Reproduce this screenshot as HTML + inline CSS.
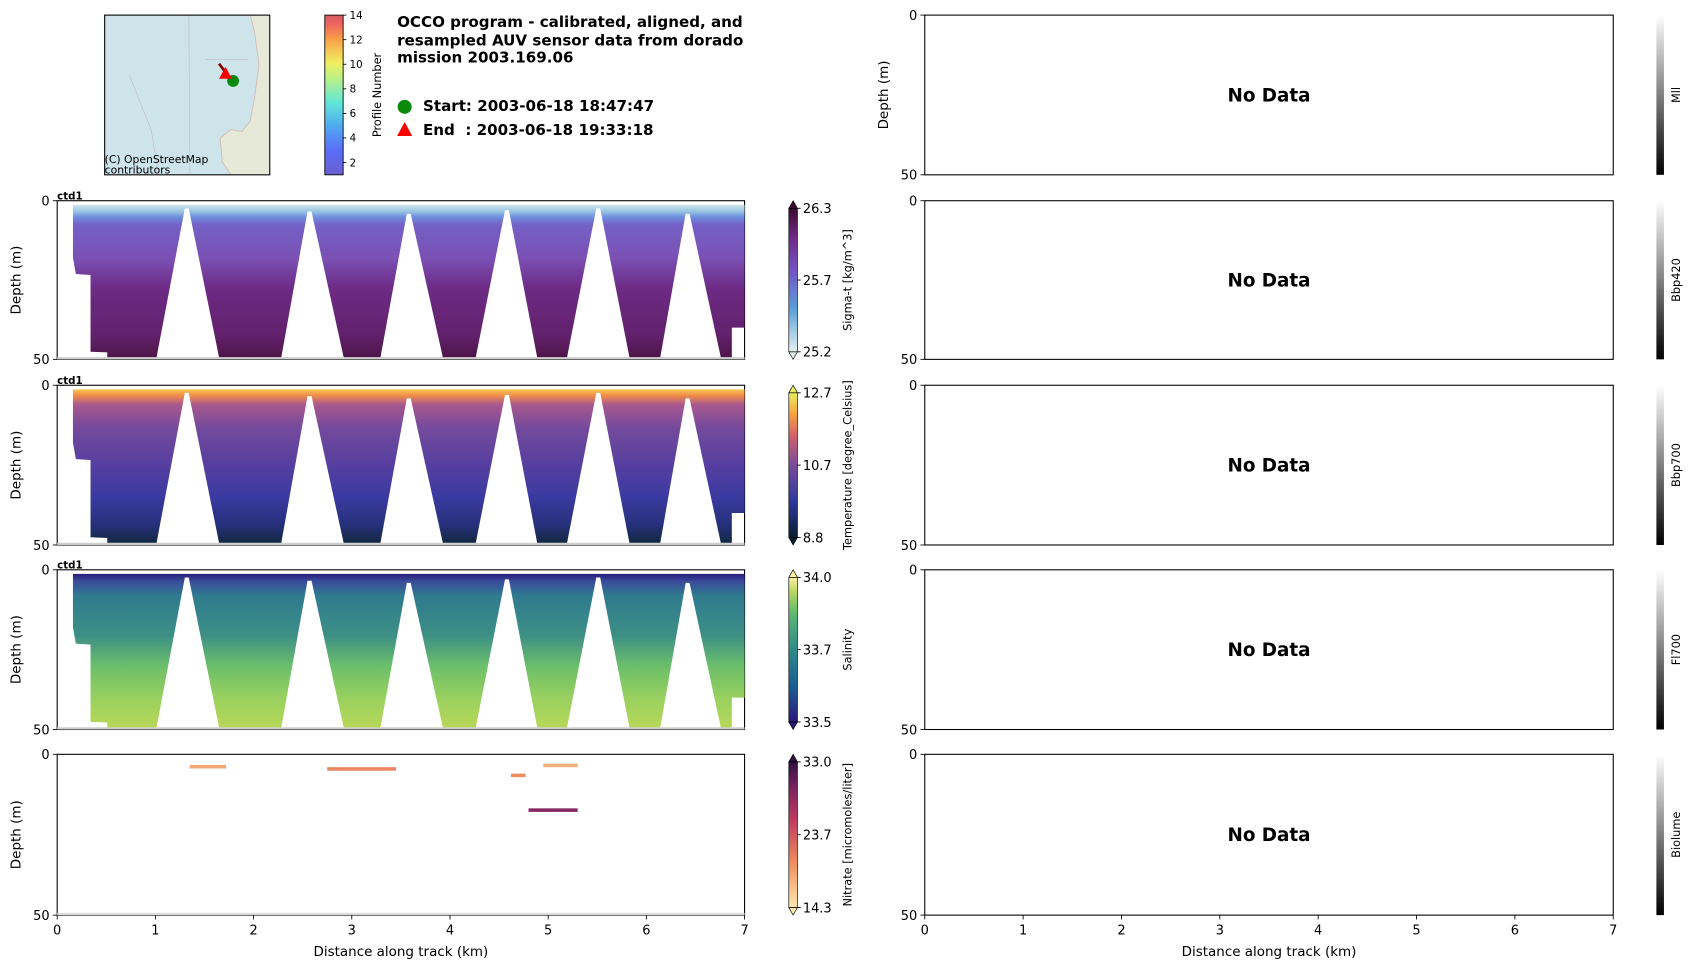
<!DOCTYPE html>
<html><head><meta charset="utf-8"><style>
html,body{margin:0;padding:0;background:#fff;}
svg{display:block;font-family:"DejaVu Sans","Liberation Sans",sans-serif;}
</style></head><body>
<svg id="fig" width="1692" height="968" viewBox="0 0 1568 897" preserveAspectRatio="none" xmlns="http://www.w3.org/2000/svg">
<defs>
<linearGradient id="gSig" x1="0" y1="0" x2="0" y2="1">
<stop offset="0" stop-color="#cfe6ea"/><stop offset="0.04" stop-color="#9cc8e4"/><stop offset="0.08" stop-color="#6e8ede"/><stop offset="0.13" stop-color="#7461c6"/><stop offset="0.35" stop-color="#7a50b4"/><stop offset="0.55" stop-color="#6c2a84"/><stop offset="0.85" stop-color="#62216c"/><stop offset="1" stop-color="#4e1448"/></linearGradient>
<linearGradient id="gTmp" x1="0" y1="0" x2="0" y2="1">
<stop offset="0" stop-color="#f7c850"/><stop offset="0.04" stop-color="#f08c48"/><stop offset="0.1" stop-color="#a8588e"/><stop offset="0.25" stop-color="#744a9c"/><stop offset="0.5" stop-color="#553ea0"/><stop offset="0.7" stop-color="#3a3aa0"/><stop offset="0.88" stop-color="#26307a"/><stop offset="1" stop-color="#12283e"/></linearGradient>
<linearGradient id="gSal" x1="0" y1="0" x2="0" y2="1">
<stop offset="0" stop-color="#2c1f7c"/><stop offset="0.05" stop-color="#3a4c9c"/><stop offset="0.14" stop-color="#2f7a8e"/><stop offset="0.4" stop-color="#3d8f86"/><stop offset="0.6" stop-color="#6cbf6a"/><stop offset="0.8" stop-color="#98d060"/><stop offset="1" stop-color="#b8d858"/></linearGradient>
<linearGradient id="cSig" x1="0" y1="1" x2="0" y2="0">
<stop offset="0" stop-color="#e6f1f1"/><stop offset="0.3" stop-color="#5b9fd9"/><stop offset="0.55" stop-color="#7358c8"/><stop offset="0.8" stop-color="#6d2a85"/><stop offset="1" stop-color="#3c0a2e"/></linearGradient>
<linearGradient id="cTmp" x1="0" y1="1" x2="0" y2="0">
<stop offset="0" stop-color="#0a1d2e"/><stop offset="0.25" stop-color="#2d3a9c"/><stop offset="0.5" stop-color="#7a4c9a"/><stop offset="0.7" stop-color="#d0606a"/><stop offset="0.85" stop-color="#f8a040"/><stop offset="1" stop-color="#e8f060"/></linearGradient>
<linearGradient id="cSal" x1="0" y1="1" x2="0" y2="0">
<stop offset="0" stop-color="#2a1a7a"/><stop offset="0.25" stop-color="#1b5f90"/><stop offset="0.5" stop-color="#2f8a88"/><stop offset="0.75" stop-color="#5fb870"/><stop offset="0.9" stop-color="#b8d860"/><stop offset="1" stop-color="#fdf0a0"/></linearGradient>
<linearGradient id="cNit" x1="0" y1="1" x2="0" y2="0">
<stop offset="0" stop-color="#fde8b0"/><stop offset="0.3" stop-color="#f09060"/><stop offset="0.6" stop-color="#c03a60"/><stop offset="0.85" stop-color="#702060"/><stop offset="1" stop-color="#2f0f3d"/></linearGradient>
<linearGradient id="cGray" x1="0" y1="1" x2="0" y2="0">
<stop offset="0" stop-color="#000"/><stop offset="1" stop-color="#fff"/></linearGradient>
<linearGradient id="cProf" x1="0" y1="1" x2="0" y2="0">
<stop offset="0" stop-color="#6a5fd0"/><stop offset="0.15" stop-color="#5a6cf8"/><stop offset="0.3" stop-color="#4fa8f0"/><stop offset="0.45" stop-color="#5fe6d8"/><stop offset="0.6" stop-color="#b8f08a"/><stop offset="0.7" stop-color="#f0f060"/><stop offset="0.85" stop-color="#f8a048"/><stop offset="0.95" stop-color="#f06060"/><stop offset="1" stop-color="#d06060"/></linearGradient>
</defs>

<!-- Map -->
<g>
<rect x="97" y="14" width="153" height="148" fill="#cde4ea"/>
<path d="M232 14 L250 14 L250 162 L214 162 L206 150 L204 128 L214 120 L224 122 L232 112 L236 90 L240 60 L236 30 Z" fill="#e6e8d8"/>
<path d="M232 14 L236 30 L240 60 L236 90 L232 112 L224 122 L214 120 L204 128 L206 150 L214 162" fill="none" stroke="#d8b8b0" stroke-width="0.8"/>
<path d="M120 70 L140 120 L147 162 M175 14 L176 162 M190 55 L230 55" fill="none" stroke="#c8b8c8" stroke-width="0.6"/>
<line x1="203" y1="59" x2="209" y2="67" stroke="#8b0000" stroke-width="2.5"/>
<circle cx="216" cy="75" r="5.5" fill="#0a8a0a"/>
<polygon points="209,62 203,73 215,73" fill="#f00"/>
<rect x="97" y="14" width="153" height="148" fill="none" stroke="#000" stroke-width="1"/>
<text x="97" y="151" font-size="10">(C) OpenStreetMap</text>
<text x="97" y="161" font-size="10">contributors</text>
</g>
<g>
<rect x="301" y="14" width="17" height="148" fill="url(#cProf)" stroke="#000" stroke-width="0.8"/>
<text transform="translate(353,88) rotate(-90)" text-anchor="middle" font-size="10.5">Profile Number</text>
</g>

<g font-weight="bold" font-size="14">
<text x="368" y="25">OCCO program - calibrated, aligned, and</text>
<text x="368" y="42">resampled AUV sensor data from dorado</text>
<text x="368" y="58">mission 2003.169.06</text>
</g>
<g font-weight="bold" font-size="14">
<circle cx="375" cy="99" r="6.5" fill="#0a8a0a"/>
<text x="392" y="103">Start: 2003-06-18 18:47:47</text>
<polygon points="375,113 368,126 382,126" fill="#f00"/>
<text x="392" y="125" xml:space="preserve">End  : 2003-06-18 19:33:18</text>
</g>

<g id="plots"></g>
</svg>
<script>
// ---- data ----
const xTicks = [0,1,2,3,4,5,6,7];
const depthTicks = [0,50];
const gapApexKm   = [1.32, 2.57, 3.58, 4.58, 5.51, 6.42];
const gapApexDepth= [2.4, 3.4, 4.1, 3.0, 2.4, 4.1];
const gapLeftKm   = [1.01, 2.28, 3.29, 4.26, 5.19, 6.14];
const gapRightKm  = [1.65, 2.92, 3.93, 4.89, 5.83, 6.76];
const profTicks = [2,4,6,8,10,12,14];
const sigmaTicks = ["26.3","25.7","25.2"];
const tempTicks = ["12.7","10.7","8.8"];
const salTicks = ["34.0","33.7","33.5"];
const nitTicks = ["33.0","23.7","14.3"];
const nitStartKm = [1.35, 2.75, 4.62, 4.95, 4.8];
const nitEndKm   = [1.72, 3.45, 4.77, 5.3, 5.3];
const nitDepth   = [3.3, 4.0, 6.0, 2.9, 16.8];
const nitValue   = [18.5, 20.5, 20.0, 18.0, 29.0];
const rightLabels = ["Mll","Bbp420","Bbp700","Fl700","Biolume"];

// ---- layout ----
const NS = "http://www.w3.org/2000/svg";
const rowTop = [14,186,357,528,699], rowBot = [162,333,505,676,848];
const LX0 = 53, LX1 = 690, RX0 = 857, RX1 = 1495;
const plots = document.getElementById('plots');
function mk(tag, attrs, parent){ const e=document.createElementNS(NS,tag); for(const k in attrs) e.setAttribute(k,attrs[k]); (parent||plots).appendChild(e); return e; }
function txt(x,y,s,attrs,parent){ const t=mk('text',Object.assign({x:x,y:y},attrs||{}),parent); t.textContent=s; return t; }
function xs(km,x0,x1){ return x0 + km/7*(x1-x0); }
function ys(d,r){ return rowTop[r] + d/50*(rowBot[r]-rowTop[r]); }

profTicks.forEach(v=>{
  const y = 162 - (v-1)/13*148;
  mk('line',{x1:318,y1:y,x2:321,y2:y,stroke:'#000','stroke-width':0.8});
  const t=txt(324,y+3.5,String(v),{'font-size':9.5});
  
  
});

function axesFrame(r,x0,x1,withX,ylabel){
  const g = mk('g',{});
  
  
  mk('rect',{x:x0,y:rowTop[r],width:x1-x0,height:rowBot[r]-rowTop[r],fill:'none',stroke:'#000','stroke-width':1},g);
  depthTicks.forEach(d=>{
    const y=ys(d,r);
    mk('line',{x1:x0-4,y1:y,x2:x0,y2:y,stroke:'#000','stroke-width':0.8},g);
    txt(x0-7,y+4.5,String(d),{'font-size':12,'text-anchor':'end'},g);
  });
  if(withX){
    xTicks.forEach(k=>{
      const x=xs(k,x0,x1);
      mk('line',{x1:x,y1:rowBot[r],x2:x,y2:rowBot[r]+4,stroke:'#000','stroke-width':0.8},g);
      txt(x,rowBot[r]+18,String(k),{'font-size':12,'text-anchor':'middle'},g);
    });
    const xl=txt((x0+x1)/2,886,'Distance along track (km)',{'font-size':12.5,'text-anchor':'middle'},g);
    
    
  }
  if(ylabel){
    const yl=txt(0,0,'Depth (m)',{'font-size':12.5,'text-anchor':'middle',transform:`translate(${x0-34},${(rowTop[r]+rowBot[r])/2}) rotate(-90)`},g);
    
    
  }
  return g;
}

function section(r,grad){
  const g = mk('g',{});
  
  
  const P=(k,d)=>xs(k,LX0,LX1).toFixed(1)+','+ys(d,r).toFixed(1);
  const outline=[P(0.16,1.3),P(7,1.3),P(7,40),P(6.87,40),P(6.87,49.6),P(0.51,49.6),P(0.51,47.8),P(0.34,47.6),P(0.34,23.4),P(0.19,23.1),P(0.16,18)].join(' ');
  mk('polygon',{points:outline,fill:'url(#'+grad+')'},g);
  for(let i=0;i<gapApexKm.length;i++){
    const tri=mk('polygon',{points:[P(gapApexKm[i]-0.02,gapApexDepth[i]),P(gapApexKm[i]+0.02,gapApexDepth[i]),P(gapRightKm[i],49.7),P(gapLeftKm[i],49.7)].join(' '),fill:'#fff'},g);
    
    
  }
  mk('rect',{x:LX0,y:ys(49.3,r),width:LX1-LX0,height:ys(50,r)-ys(49.3,r),fill:'#cfcfcf'},g);
  txt(LX0,rowTop[r]-1,'ctd1',{'font-size':9.5,'font-weight':'bold'},g);
}

function colorbar(r,x,grad,ticks,label,extend){
  const g = mk('g',{});
  
  
  const t=rowTop[r]+7, b=rowBot[r]-7, w=8;
  if(extend){
    mk('rect',{x:x,y:t,width:w,height:b-t,fill:'url(#'+grad+')'},g);
    mk('polygon',{points:`${x},${t} ${x+w/2},${rowTop[r]} ${x+w},${t}`,fill:ticks.top,stroke:'#000','stroke-width':0.6},g);
    mk('polygon',{points:`${x},${b} ${x+w/2},${rowBot[r]} ${x+w},${b}`,fill:ticks.bot,stroke:'#000','stroke-width':0.6},g);
    mk('rect',{x:x,y:t,width:w,height:b-t,fill:'none',stroke:'#000','stroke-width':0.6},g);
    ticks.vals.forEach((v,i)=>{
      const y = [t, (t+b)/2, b][i];
      mk('line',{x1:x+w,y1:y,x2:x+w+3,y2:y,stroke:'#000','stroke-width':0.8},g);
      txt(x+w+5,y+4.5,v,{'font-size':12},g);
    });
    txt(0,0,label,{'font-size':10.5,'text-anchor':'middle',transform:`translate(${x+w+50},${(rowTop[r]+rowBot[r])/2}) rotate(-90)`},g);
  } else {
    mk('rect',{x:x,y:rowTop[r],width:7,height:rowBot[r]-rowTop[r],fill:'url(#'+grad+')'},g);
    txt(0,0,label,{'font-size':10.5,'text-anchor':'middle',transform:`translate(${x+22},${(rowTop[r]+rowBot[r])/2}) rotate(-90)`},g);
  }
}

for(let r=1;r<5;r++) axesFrame(r,LX0,LX1,r===4,true);
section(1,'gSig'); section(2,'gTmp'); section(3,'gSal');
colorbar(1,731,'cSig',{vals:sigmaTicks,top:'#3c0a2e',bot:'#e6f1f1'},'Sigma-t [kg/m^3]',true);
colorbar(2,731,'cTmp',{vals:tempTicks,top:'#e8f060',bot:'#0a1d2e'},'Temperature [degree_Celsius]',true);
colorbar(3,731,'cSal',{vals:salTicks,top:'#fdf0a0',bot:'#2a1a7a'},'Salinity',true);
colorbar(4,731,'cNit',{vals:nitTicks,top:'#2f0f3d',bot:'#fde8b0'},'Nitrate [micromoles/liter]',true);

const nMin=14.3, nMax=33.0;
function nitColor(v){
  const stops=[[0,[253,232,176]],[0.3,[240,144,96]],[0.6,[192,58,96]],[0.85,[112,32,96]],[1,[47,15,61]]];
  const f=Math.max(0,Math.min(1,(v-nMin)/(nMax-nMin)));
  for(let i=1;i<stops.length;i++){ if(f<=stops[i][0]){ const a=stops[i-1],b=stops[i],u=(f-a[0])/(b[0]-a[0]); return 'rgb('+a[1].map((c,j)=>Math.round(c+(b[1][j]-c)*u)).join(',')+')'; } }
  return 'rgb(47,15,61)';
}
for(let i=0;i<nitStartKm.length;i++){
  const x0=xs(nitStartKm[i],LX0,LX1), x1=xs(nitEndKm[i],LX0,LX1);
  const seg=mk('rect',{x:x0,y:ys(nitDepth[i],4),width:x1-x0,height:ys(nitDepth[i]+1.1,4)-ys(nitDepth[i],4),fill:nitColor(nitValue[i])});
  
  
}
mk('rect',{x:LX0,y:ys(49.3,4),width:LX1-LX0,height:ys(50,4)-ys(49.3,4),fill:'#dcdcdc'});

for(let r=0;r<5;r++){
  axesFrame(r,RX0,RX1,r===4,r===0);
  const nd=txt((RX0+RX1)/2,(rowTop[r]+rowBot[r])/2+6,'No Data',{'font-size':17,'font-weight':'bold','text-anchor':'middle'});
  
  
  colorbar(r,1535,'cGray',null,rightLabels[r],false);
}
</script>
</body></html>
